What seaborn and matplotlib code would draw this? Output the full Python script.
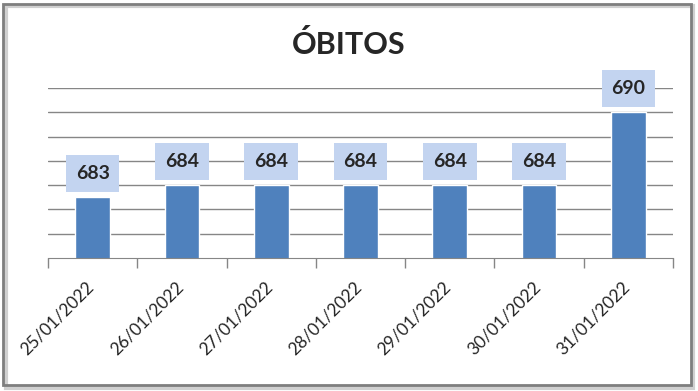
import matplotlib
matplotlib.use("Agg")
import matplotlib.pyplot as plt
import matplotlib.transforms as mtransforms
from matplotlib.patches import Rectangle
import seaborn as sns
import pandas as pd

# daily deaths (cumulative)
dates = ["25/01/2022", "26/01/2022", "27/01/2022", "28/01/2022",
         "29/01/2022", "30/01/2022", "31/01/2022"]
obitos = [683, 684, 684, 684, 684, 684, 690]

df = pd.DataFrame({"data": dates, "obitos": obitos})

sns.set_style("white")
plt.rcParams["font.family"] = ["Lato", "DejaVu Sans"]

fig = plt.figure(figsize=(6.98, 3.91), dpi=100)
ax = fig.add_axes([48 / 698, 1 - 258 / 391, 625 / 698, 170 / 391])

sns.barplot(data=df, x="data", y="obitos", color="#4f81bd", width=0.39,
            saturation=1, ax=ax)

ax.set_ylim(678, 692)
ax.set_xlim(-0.5, len(dates) - 0.5)
ax.set_yticks(range(680, 693, 2))
ax.set_yticklabels([])
ax.tick_params(axis="y", length=0)
ax.yaxis.grid(True, color="#868686", lw=1)
ax.set_axisbelow(True)

# category boundaries as ticks
ax.set_xticks([i - 0.5 for i in range(len(dates) + 1)], minor=True)
ax.tick_params(axis="x", which="minor", length=7, color="#868686", width=1,
               direction="out", bottom=True)
ax.tick_params(axis="x", which="major", length=0, pad=15)
shift = mtransforms.ScaledTranslation(-7 / 100, 0, fig.dpi_scale_trans)
for lab in ax.get_xticklabels():
    lab.set_rotation(45)
    lab.set_ha("right")
    lab.set_rotation_mode("anchor")
    lab.set_fontsize(12.5)
    lab.set_transform(lab.get_transform() + shift)

for s in ["top", "right", "left"]:
    ax.spines[s].set_visible(False)
ax.spines["bottom"].set_color("#868686")
ax.set_xlabel("")
ax.set_ylabel("")

ax.bar_label(ax.containers[0], padding=11, fontsize=14, fontweight="bold",
             bbox=dict(boxstyle="square,pad=0.5", fc="#c3d4f0", ec="none"))

fig.suptitle("ÓBITOS", fontsize=22, fontweight="bold", y=1 - 45 / 391,
             va="center")

# chart frame with a small shadow
fig.patches.append(Rectangle((6 / 698, 1 - 388 / 391), 687 / 698, 382 / 391,
                             transform=fig.transFigure, fc="none",
                             ec="#d0d0d0", lw=3, zorder=0))
fig.patches.append(Rectangle((3 / 698, 1 - 385 / 391), 688 / 698, 381 / 391,
                             transform=fig.transFigure, fc="none",
                             ec="#7f7f7f", lw=2, zorder=1))

fig.savefig("out.png", dpi=100)
